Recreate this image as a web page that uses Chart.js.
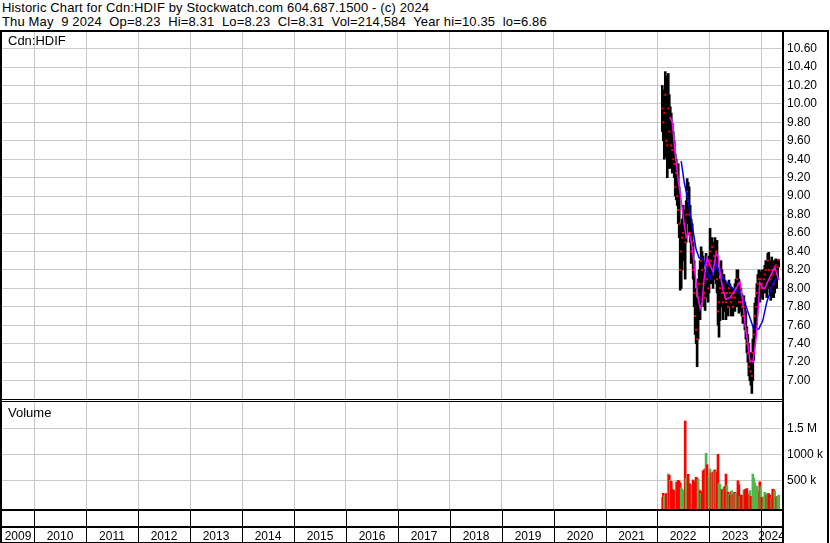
<!DOCTYPE html>
<html lang="en">
<head>
<meta charset="UTF-8">
<title>Historic Chart for Cdn:HDIF</title>
<script src="https://cdn.jsdelivr.net/npm/chart.js"></script>
<style>
    body { margin: 0; background: #fff; }
    #wrap {
        position: relative; width: 830px; height: 543px; overflow: hidden;
        background: #fff; color: #000;
        font-family: Arial, "Liberation Sans", sans-serif;
    }
    .hdr { position: absolute; left: 2px; font-size: 13px; line-height: 14px; white-space: pre; letter-spacing: 0.15px; }
    .lbl { position: absolute; left: 8px; font-size: 13px; line-height: 14px; white-space: pre; }
    #topline { position: absolute; left: 0; top: 30px; width: 829px; height: 2px; background: #000; }
    canvas { position: absolute; left: 0; }
</style>
</head>
<body>
<div id="wrap">
    <div class="hdr" style="top:1px">Historic Chart for Cdn:HDIF by Stockwatch.com 604.687.1500 - (c) 2024</div>
    <div class="hdr" style="top:15px">Thu May  9 2024  Op=8.23  Hi=8.31  Lo=8.23  Cl=8.31  Vol=214,584  Year hi=10.35  lo=6.86</div>
    <div id="topline"></div>
    <canvas id="price" width="830" height="368" style="top:32px"></canvas>
    <canvas id="volume" width="830" height="143" style="top:400px"></canvas>
    <div class="lbl" style="top:34px">Cdn:HDIF</div>
    <div class="lbl" style="top:406px">Volume</div>
</div>

<script>
// weekly bars, first week starting Fri Feb 4 2022
const firstWeek = Date.UTC(2022, 1, 4);

const weekLow = [9.70,9.60,9.40,9.55,9.42,9.20,9.30,9.50,9.30,9.40,
    9.25,9.30,9.20,9.00,8.96,8.90,8.70,8.55,7.98,8.00,
    8.20,8.30,8.40,8.10,8.50,8.70,8.75,8.60,8.50,8.27,
    8.30,8.10,7.80,7.50,7.40,7.15,7.45,7.70,7.66,7.80,
    8.00,7.90,7.80,7.76,7.90,8.00,7.85,7.95,8.10,8.05,
    8.20,8.00,8.10,8.20,8.05,7.95,7.60,7.47,7.65,7.80,
    7.90,7.66,7.75,7.80,7.66,7.75,7.70,7.80,7.85,7.70,
    7.75,7.70,7.80,7.75,7.85,7.80,7.90,7.73,7.80,7.75,
    7.70,7.62,7.65,7.55,7.45,7.30,7.20,7.05,7.00,6.95,
    6.86,7.00,7.22,7.40,7.55,7.70,7.84,7.90,7.85,7.90,
    7.95,7.88,7.95,7.95,8.00,7.90,8.00,8.05,7.95,7.87,
    7.90,8.00,7.90,7.95,8.05,8.00,8.10,8.23];

const weekHigh = [10.20,10.15,10.05,10.35,10.30,10.00,10.33,10.10,9.97,9.90,
    9.79,9.70,9.60,9.46,9.40,9.35,9.35,9.10,8.70,8.60,
    8.75,8.90,8.85,8.74,8.95,9.19,9.15,9.10,8.90,8.75,
    8.70,8.50,8.30,8.00,7.90,7.80,8.10,8.20,8.30,8.45,
    8.40,8.35,8.20,8.15,8.38,8.30,8.25,8.35,8.65,8.50,
    8.55,8.45,8.50,8.55,8.45,8.52,8.20,8.00,8.10,8.30,
    8.20,8.05,8.15,8.09,8.00,8.05,8.02,8.09,8.05,8.00,
    8.00,7.98,8.00,8.05,8.10,8.20,8.20,8.10,8.05,8.00,
    7.94,7.90,7.92,7.85,7.75,7.58,7.50,7.40,7.30,7.30,
    7.20,7.45,7.60,7.84,7.90,8.05,8.15,8.20,8.15,8.18,
    8.20,8.15,8.20,8.25,8.30,8.28,8.38,8.39,8.30,8.25,
    8.34,8.30,8.25,8.30,8.32,8.30,8.31,8.31];

const weekClose = [9.95,9.80,9.90,10.10,9.60,9.55,9.95,9.70,9.85,9.55,
    9.50,9.40,9.35,9.10,9.25,9.00,8.85,8.70,8.20,8.40,
    8.55,8.60,8.70,8.50,8.80,9.05,8.95,8.80,8.60,8.40,
    8.50,8.20,7.95,7.70,7.55,7.45,7.90,8.05,7.80,8.30,
    8.20,8.05,7.95,7.90,8.25,8.10,8.00,8.25,8.40,8.30,
    8.45,8.15,8.35,8.30,8.40,8.10,7.75,7.85,8.00,8.15,
    7.95,7.85,7.95,7.90,7.85,7.95,7.80,8.00,7.95,7.85,
    7.90,7.80,7.95,7.90,8.00,8.10,8.05,7.85,7.95,7.85,
    7.80,7.70,7.80,7.65,7.55,7.40,7.30,7.15,7.20,7.10,
    7.05,7.30,7.50,7.70,7.80,7.95,8.05,8.10,8.00,8.10,
    8.05,8.00,8.10,8.15,8.20,8.05,8.30,8.20,8.10,8.00,
    8.20,8.15,8.05,8.20,8.25,8.15,8.23,8.31];

// volume in thousands of shares
const weekVolumeK = [173,250,200,190,240,250,620,600,500,480,
    330,310,300,310,470,460,500,480,440,350,
    330,300,250,1640,540,520,615,440,420,380,
    400,506,470,450,558,540,520,320,300,250,
    280,680,700,717,1020,800,540,560,717,640,
    630,660,690,700,670,650,1000,440,420,310,
    320,330,370,380,620,400,270,230,210,280,
    300,217,260,270,250,240,490,420,190,217,
    210,200,310,320,330,340,217,230,300,190,
    180,620,540,450,390,380,280,290,470,380,
    173,170,180,270,230,217,250,245,217,154,
    160,330,320,300,190,180,175,214.584];

// short (magenta) and long (blue) moving averages, read at these week numbers
const maShortWeek = [8,10,13,16,19,21,24,27,30,33,36,38,40,42,45,48,51,54,56,59,61,64,68,73,78,81,83,86,88,91,93,95,98,101,103,108,113,117];
const maShortVal  = [9.85,9.80,9.45,9.17,8.95,8.78,8.55,8.60,8.45,8.15,7.90,7.78,7.85,8.10,8.33,8.25,8.18,8.38,8.35,8.10,7.98,7.88,7.90,7.98,8.07,7.85,7.62,7.40,7.22,7.20,7.35,7.55,8.06,8.00,8.00,8.12,8.23,8.09];
const maLongWeek = [19,22,26,29,31,34,37,41,44,48,51,55,58,62,66,71,76,81,85,89,92,97,101,105,110,114,117];
const maLongVal  = [9.38,9.15,8.95,8.75,8.62,8.42,8.33,8.32,8.22,8.10,8.18,8.25,8.15,8.10,8.05,8.00,7.97,7.90,7.78,7.65,7.56,7.56,7.65,7.85,8.02,8.10,8.12];

const priceTickLabels = ['7.00','7.20','7.40','7.60','7.80','8.00','8.20','8.40','8.60','8.80',
    '9.00','9.20','9.40','9.60','9.80','10.00','10.20','10.40','10.60'];
const volTickValues = [500, 1000, 1500];
const volTickLabels = ['500 k', '1000 k', '1.5 M'];
const yearLabels = ['2009','2010','2011','2012','2013','2014','2015','2016','2017','2018',
    '2019','2020','2021','2022','2023','2024'];

const X_MIN = 2009.374, X_MAX = 2024.40;
const P_MIN = 6.8, P_MAX = 10.78;
const V_MIN = -52, V_MAX = 2006;
const GRID = '#c8c8c8';
const FONT = 'Arial, "Liberation Sans", sans-serif';

Chart.defaults.font.family = FONT;
Chart.defaults.font.size = 12;
Chart.defaults.color = '#000';

function weekYear(i) {
    const t = firstWeek + i * 7 * 86400000;
    return 1970 + t / (365.2425 * 86400000);
}

const yearStarts = yearLabels.slice(1).map(Number);

const rangePts = weekLow.map((lo, i) => ({ x: weekYear(i), y: [lo, weekHigh[i]] }));
const closePts = weekClose.map((c, i) => ({ x: weekYear(i), y: c }));
const maShortPts = maShortWeek.map((w, i) => ({ x: weekYear(w), y: maShortVal[i] }));
const maLongPts = maLongWeek.map((w, i) => ({ x: weekYear(w), y: maLongVal[i] }));
const volPts = weekVolumeK.map((v, i) => ({ x: weekYear(i), y: v }));
const volColors = weekClose.map((c, i) => {
    if (i === 0 || c > weekClose[i - 1]) return '#4cb84c';
    if (c < weekClose[i - 1]) return '#ff0000';
    return '#a0a0a0';
});

// fixed-range axis helper: ticks come from the named arrays, range is not widened
function fixedAxis(min, max, values) {
    return s => {
        s.ticks = values.map(v => ({ value: v }));
        s.min = min;
        s.max = max;
    };
}

// black frame of the price panel
const priceFrame = {
    id: 'priceFrame',
    afterDraw(chart) {
        const c = chart.ctx, a = chart.chartArea;
        c.save();
        c.fillStyle = '#000';
        c.fillRect(0, 0, 2, chart.height);
        c.fillRect(a.right, 0, 2, chart.height);
        c.fillRect(827, 0, 2, chart.height);
        c.fillRect(0, a.bottom, a.right, 1);
        c.restore();
    }
};

// volume frame plus the two year rows underneath
const yearRows = {
    id: 'yearRows',
    afterDraw(chart) {
        const c = chart.ctx, a = chart.chartArea, xs = chart.scales.x;
        const h = chart.height;
        c.save();
        c.fillStyle = '#000';
        c.fillRect(0, 0, 2, h);
        c.fillRect(0, 1, a.right, 1);
        c.fillRect(0, a.bottom, a.right, 2);
        c.fillRect(0, a.bottom + 17, a.right, 2);
        c.fillRect(0, h - 1, a.right, 1);
        const bounds = [a.left, ...yearStarts.map(y => Math.round(xs.getPixelForValue(y))), a.right];
        bounds.slice(1, -1).forEach(px => c.fillRect(px, a.bottom + 2, 1, h - a.bottom - 2));
        c.beginPath();
        c.rect(0, a.bottom, a.right, h - a.bottom);
        c.clip();
        c.font = '12px ' + FONT;
        c.textAlign = 'center';
        c.textBaseline = 'alphabetic';
        yearLabels.forEach((lab, i) => {
            c.fillText(lab, (bounds[i] + bounds[i + 1]) / 2, h - 3);
        });
        c.restore();
        c.save();
        c.fillStyle = '#000';
        c.fillRect(a.right, 0, 2, h);
        c.fillRect(827, 0, 2, h);
        c.restore();
    }
};

const xAxis = (height) => ({
    type: 'linear', min: X_MIN, max: X_MAX, offset: false, bounds: 'data',
    ticks: { display: false },
    grid: { color: GRID, drawTicks: false, offset: false },
    border: { display: false },
    afterBuildTicks: fixedAxis(X_MIN, X_MAX, yearStarts),
    afterFit: s => { s.height = height; }
});

new Chart(document.getElementById('price'), {
    type: 'bar',
    data: {
        datasets: [
            { type: 'line', data: maShortPts, borderColor: '#ff00ff', borderWidth: 1.5, pointRadius: 0, order: 0 },
            { type: 'line', data: maLongPts, borderColor: '#0000ff', borderWidth: 1.5, pointRadius: 0, order: 0 },
            { type: 'scatter', data: closePts, pointStyle: 'rect', pointRadius: 1.4, backgroundColor: '#ff0000', borderWidth: 0, order: 1 },
            { type: 'bar', data: rangePts, backgroundColor: '#000000', barThickness: 2, order: 2 }
        ]
    },
    options: {
        responsive: false,
        animation: false,
        events: [],
        layout: { autoPadding: false, padding: { left: 2, right: 0, top: 0, bottom: 1 } },
        plugins: { legend: { display: false }, tooltip: { enabled: false } },
        scales: {
            x: xAxis(0),
            y: {
                position: 'right', min: P_MIN, max: P_MAX, offset: false, bounds: 'data', beginAtZero: false,
                grid: { color: GRID, drawTicks: false },
                border: { display: false },
                ticks: { padding: 5, callback: (v, i) => priceTickLabels[i] },
                afterBuildTicks: fixedAxis(P_MIN, P_MAX, priceTickLabels.map(parseFloat)),
                afterFit: s => { s.width = 48; s.paddingTop = 0; s.paddingBottom = 0; }
            }
        }
    },
    plugins: [priceFrame]
});

new Chart(document.getElementById('volume'), {
    type: 'bar',
    data: {
        datasets: [
            { data: volPts, backgroundColor: volColors, barThickness: 2, base: V_MIN }
        ]
    },
    options: {
        responsive: false,
        animation: false,
        events: [],
        layout: { autoPadding: false, padding: { left: 2, right: 0, top: 2, bottom: 0 } },
        plugins: { legend: { display: false }, tooltip: { enabled: false } },
        scales: {
            x: xAxis(34),
            y: {
                position: 'right', min: V_MIN, max: V_MAX, offset: false, bounds: 'data',
                grid: { color: GRID, drawTicks: false },
                border: { display: false },
                ticks: { padding: 5, callback: (v, i) => volTickLabels[i] },
                afterBuildTicks: fixedAxis(V_MIN, V_MAX, volTickValues),
                afterFit: s => { s.width = 48; s.paddingTop = 0; s.paddingBottom = 0; }
            }
        }
    },
    plugins: [yearRows]
});
</script>
</body>
</html>
